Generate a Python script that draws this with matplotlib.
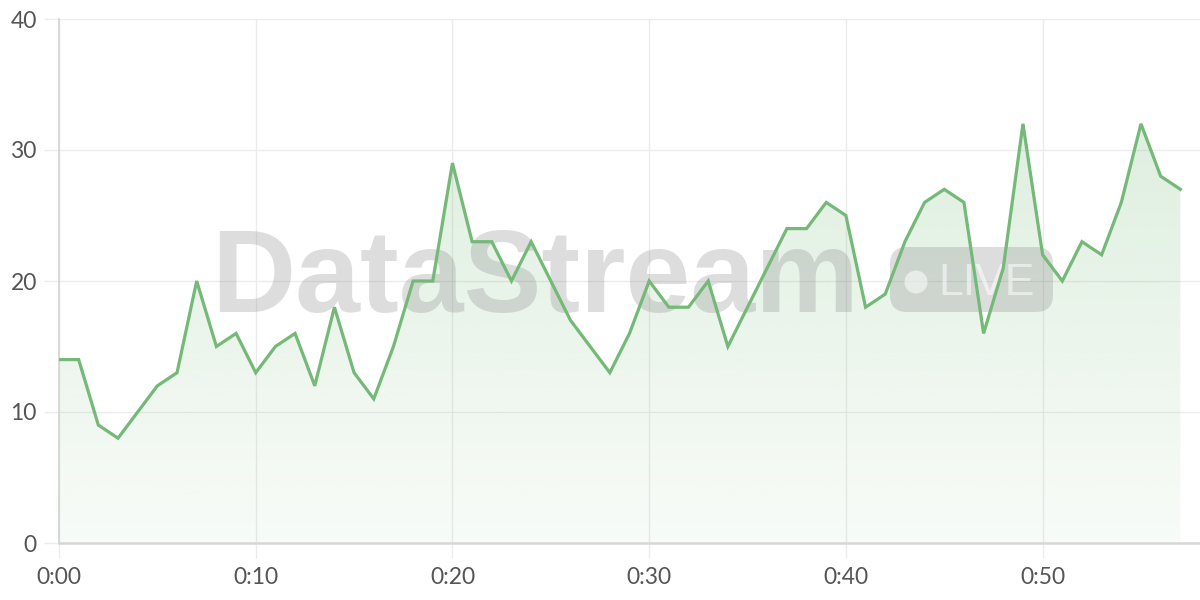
import numpy as np
import matplotlib.pyplot as plt
from matplotlib.patches import FancyBboxPatch, Circle
from matplotlib.transforms import IdentityTransform
from matplotlib.colors import to_rgb

# one value per minute, 0:00 .. 0:57
minutes = list(range(58))
values = [14, 14, 9, 8, 10, 12, 13, 20, 15, 16,
          13, 15, 16, 12, 18, 13, 11, 15, 20, 20,
          29, 23, 23, 20, 23, 20, 17, 15, 13, 16,
          20, 18, 18, 20, 15, 18, 21, 24, 24, 26,
          25, 18, 19, 23, 26, 27, 26, 16, 21, 32,
          22, 20, 23, 22, 26, 32, 28, 27]
xticks = [0, 10, 20, 30, 40, 50]
xtick_labels = ['0:00', '0:10', '0:20', '0:30', '0:40', '0:50']
yticks = [0, 10, 20, 30, 40]

LINE = '#74b977'
GRID = '#ebebeb'
TEXT = '#555555'

fig = plt.figure(figsize=(12, 6), dpi=100)
ax = fig.add_axes([59 / 1200, 57 / 600, 1141 / 1200, 524 / 600])
ax.set_xlim(0, 58)
ax.set_ylim(0, 40)

# gradient fill under the line
poly = ax.fill_between(minutes, values, 0, color='none', lw=0)
grad = np.linspace(0.05, 0.28, 256).reshape(-1, 1)
rgba = np.zeros((256, 1, 4))
rgba[..., :3] = to_rgb(LINE)
rgba[..., 3] = grad
img = ax.imshow(rgba, extent=[0, 58, 0, 40], origin='lower', aspect='auto', zorder=1)
img.set_clip_path(poly.get_paths()[0], transform=ax.transData)

ax.plot(minutes, values, color=LINE, lw=2.3, zorder=5, solid_joinstyle='miter')

ax.set_xticks(xticks)
ax.set_xticklabels(xtick_labels)
ax.set_yticks(yticks)
ax.grid(True, color=GRID, lw=1, zorder=0)
ax.set_axisbelow(True)
ax.tick_params(axis='both', colors=GRID, length=11, width=1, labelcolor=TEXT, labelsize=16.5)
ax.tick_params(axis='x', pad=6)
ax.tick_params(axis='y', pad=5)
for lab in ax.get_xticklabels() + ax.get_yticklabels():
    lab.set_fontfamily('Lato')
for s in ['top', 'right']:
    ax.spines[s].set_visible(False)
ax.spines['left'].set_color('#d6d6d6')
ax.spines['left'].set_linewidth(1.3)
ax.spines['bottom'].set_color('#d6d6d6')
ax.spines['bottom'].set_linewidth(1.8)

# watermark, drawn between the fill and the line
ident = IdentityTransform()
ax.text(211, 600 - 312, 'DataStream', transform=ident, fontsize=84, fontweight='bold',
        family='Liberation Sans', color='#888888', alpha=0.28, va='baseline', ha='left',
        zorder=3, clip_on=False)
badge = FancyBboxPatch((890, 600 - 312), 163, 65, boxstyle='round,pad=0,rounding_size=17',
                       transform=ident, facecolor='#888888', alpha=0.28, lw=0, zorder=3)
badge.set_clip_on(False)
ax.add_artist(badge)
dot = Circle((916, 600 - 282), 11.5, transform=ident, facecolor='white', alpha=0.55, lw=0, zorder=4)
dot.set_clip_on(False)
ax.add_artist(dot)
ax.text(938, 600 - 295, 'LIVE', transform=ident, fontsize=32, family='Liberation Sans',
        color='white', alpha=0.55, va='baseline', ha='left', zorder=4, clip_on=False)

fig.savefig('out.png', dpi=100)
